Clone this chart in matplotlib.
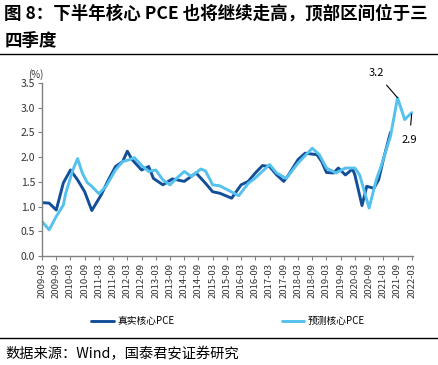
import numpy as np
import pandas as pd
import matplotlib
matplotlib.use("Agg")
import matplotlib.pyplot as plt

plt.rcParams['font.family'] = ['Noto Sans CJK SC', 'DejaVu Sans']

# 真实核心PCE (month, %)
real_dates = ['2009-03', '2009-06', '2009-09', '2009-12', '2010-03', '2010-06', '2010-09',
              '2010-12', '2011-04', '2011-07', '2011-10', '2012-01', '2012-03', '2012-05',
              '2012-09', '2012-12', '2013-02', '2013-06', '2013-10', '2014-03', '2014-08',
              '2014-12', '2015-03', '2015-06', '2015-11', '2016-03', '2016-06', '2016-09',
              '2016-12', '2017-03', '2017-06', '2017-09', '2017-11', '2018-03', '2018-06',
              '2018-11', '2019-01', '2019-03', '2019-06', '2019-08', '2019-11', '2020-02',
              '2020-03', '2020-06', '2020-08', '2020-11', '2021-01', '2021-03', '2021-06']
real_vals = [1.08, 1.07, 0.93, 1.48, 1.74, 1.54, 1.30,
             0.92, 1.24, 1.54, 1.81, 1.91, 2.12, 1.95,
             1.74, 1.81, 1.57, 1.44, 1.56, 1.51, 1.68,
             1.47, 1.30, 1.27, 1.17, 1.44, 1.51, 1.68,
             1.83, 1.81, 1.64, 1.51, 1.64, 1.95, 2.08,
             2.05, 1.91, 1.69, 1.68, 1.78, 1.64, 1.76,
             1.64, 1.02, 1.41, 1.37, 1.54, 1.95, 2.50]

# 预测核心PCE
pred_dates = ['2009-03', '2009-06', '2009-09', '2009-12', '2010-01', '2010-04', '2010-06',
              '2010-08', '2010-10', '2010-12', '2011-03', '2011-06', '2011-10', '2012-01',
              '2012-04', '2012-06', '2012-09', '2012-12', '2013-03', '2013-06', '2013-09',
              '2013-12', '2014-03', '2014-06', '2014-10', '2014-12', '2015-03', '2015-06',
              '2016-02', '2016-06', '2016-09', '2017-03', '2017-06', '2017-10', '2018-03',
              '2018-09', '2018-12', '2019-03', '2019-07', '2019-11', '2020-03', '2020-05',
              '2020-09', '2020-12', '2021-02', '2021-06', '2021-09', '2021-12', '2022-03']
pred_vals = [0.70, 0.53, 0.80, 1.03, 1.27, 1.74, 1.97,
             1.68, 1.49, 1.41, 1.26, 1.41, 1.74, 1.91,
             1.95, 1.99, 1.83, 1.71, 1.74, 1.54, 1.44,
             1.58, 1.71, 1.61, 1.76, 1.72, 1.44, 1.42,
             1.22, 1.47, 1.58, 1.85, 1.68, 1.57, 1.88,
             2.18, 2.05, 1.78, 1.68, 1.78, 1.78, 1.64,
             0.97, 1.54, 1.81, 2.42, 3.20, 2.76, 2.90]

tick_labels = [f'{y}-{m}' for y in range(2009, 2023) for m in ('03', '09')][:-1]

base = pd.Period('2009-03', 'M')
def to_m(ds):
    return np.array([(pd.Period(d, 'M') - base).n for d in ds])

real_x = to_m(real_dates)
pred_x = to_m(pred_dates)
tick_x = to_m(tick_labels)

dark = '#134f98'
light = '#55c1ee'

fig = plt.figure(figsize=(4.39, 3.65), dpi=100)
ax = fig.add_axes([0.0957, 0.2986, 0.845, 0.474])

ax.plot(real_x, real_vals, color=dark, lw=2.1, label='真实核心PCE',
        solid_joinstyle='round', solid_capstyle='round')
ax.plot(pred_x, pred_vals, color=light, lw=2.1, label='预测核心PCE',
        solid_joinstyle='round', solid_capstyle='round')

ax.set_xlim(0, 156.5)
ax.set_ylim(0, 3.5)
ax.set_yticks(np.arange(0, 3.51, 0.5))
ax.set_yticklabels([f'{v:.1f}' for v in np.arange(0, 3.51, 0.5)], fontsize=7.5, color='#333333')
ax.set_xticks(tick_x)
ax.set_xticklabels(tick_labels, rotation=90, fontsize=6.8, color='#333333')
for s in ['top', 'right']:
    ax.spines[s].set_visible(False)
for s in ['left', 'bottom']:
    ax.spines[s].set_color('#808080')
    ax.spines[s].set_linewidth(1.0)
ax.tick_params(axis='both', color='#808080', length=3, width=0.8, pad=2)
ax.text(-6, 3.68, '(%)', fontsize=7, color='#333333', ha='left', va='center')

# annotations
ax.annotate('3.2', xy=(pred_x[-3], pred_vals[-3]), xytext=(141, 3.7),
            fontsize=8, ha='center', va='center',
            arrowprops=dict(arrowstyle='-', color='black', lw=0.8, shrinkA=4, shrinkB=0))
ax.annotate('2.9', xy=(pred_x[-1], pred_vals[-1]), xytext=(155, 2.35),
            fontsize=8, ha='center', va='center',
            arrowprops=dict(arrowstyle='-', color='black', lw=0.8, shrinkA=5, shrinkB=1))

fig.legend(loc='center', bbox_to_anchor=(0.52, 0.12), ncol=2, frameon=False,
           fontsize=7, handlelength=2.3, columnspacing=11, handletextpad=0.4)

fig.text(0.01, 0.962, '图 8：下半年核心 PCE 也将继续走高，顶部区间位于三', fontsize=12.6,
         fontweight='bold', ha='left', va='center')
fig.text(0.01, 0.888, '四季度', fontsize=12.6, fontweight='bold', ha='left', va='center')
fig.add_artist(plt.Line2D([0, 0.995], [0.852, 0.852], color='black', lw=1.0))
fig.add_artist(plt.Line2D([0, 0.995], [0.074, 0.074], color='black', lw=1.0))
fig.text(0.012, 0.03, '数据来源：Wind，国泰君安证券研究', fontsize=10.3, ha='left', va='center')

fig.savefig('out.png', dpi=100)
